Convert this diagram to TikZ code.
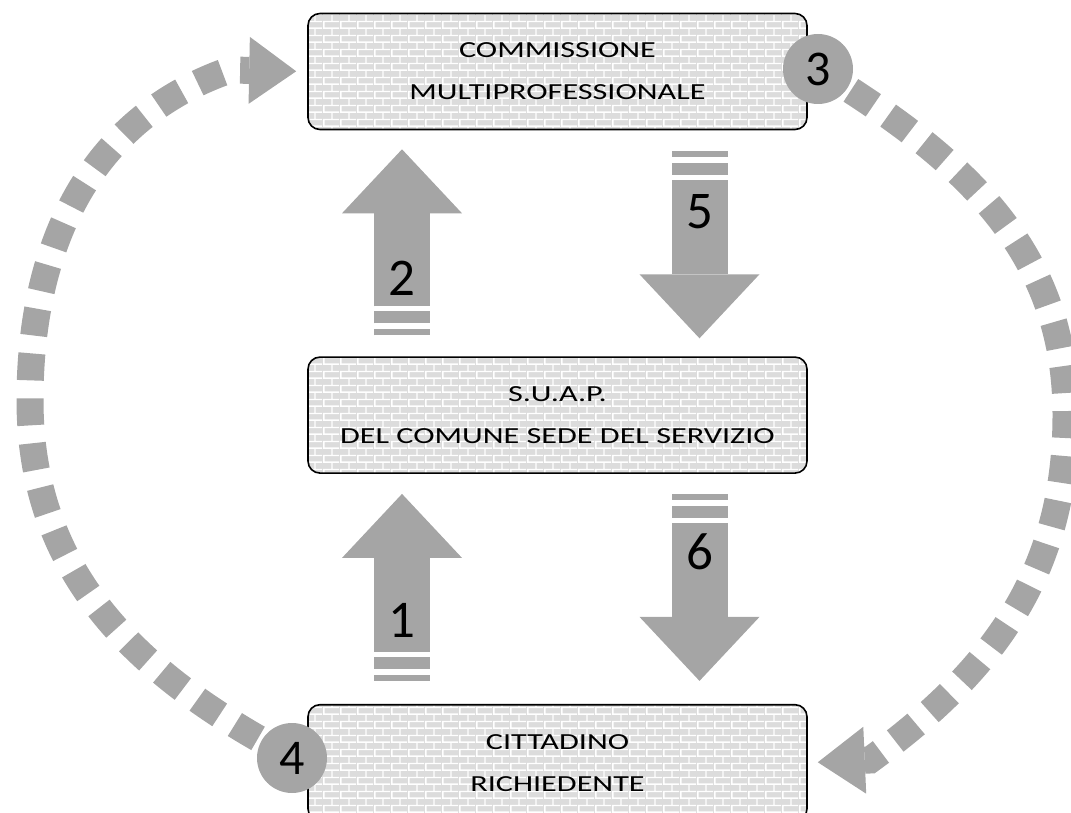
\documentclass[tikz,border=0pt]{standalone}
\usepackage{fontspec}
\setmainfont{Carlito}
\newfontfamily\boxfont[FakeStretch=1.4]{Carlito}
\usetikzlibrary{positioning,calc,patterns,arrows.meta}
\definecolor{arrowgray}{HTML}{A5A5A5}
\definecolor{boxgray}{HTML}{DCDCDC}

% white joints of the box filling
\pgfdeclarepatternformonly{brickwall}{\pgfpointorigin}{\pgfqpoint{17pt}{14pt}}{\pgfqpoint{17pt}{14pt}}{
    \pgfsetlinewidth{1.5pt}
    \pgfpathmoveto{\pgfqpoint{0pt}{1pt}}\pgfpathlineto{\pgfqpoint{17pt}{1pt}}
    \pgfpathmoveto{\pgfqpoint{0pt}{8pt}}\pgfpathlineto{\pgfqpoint{17pt}{8pt}}
    \pgfpathmoveto{\pgfqpoint{1pt}{1pt}}\pgfpathlineto{\pgfqpoint{1pt}{8pt}}
    \pgfpathmoveto{\pgfqpoint{9.5pt}{8pt}}\pgfpathlineto{\pgfqpoint{9.5pt}{15pt}}
    \pgfusepath{stroke}
}

\begin{document}
\begin{tikzpicture}[
    x=1pt, y=1pt,
    node distance=226pt,
    box/.style={rectangle, draw, line width=1.6pt, rounded corners=12pt, minimum width=499pt, minimum height=116pt, align=center, preaction={fill=boxgray}, pattern=brickwall, pattern color=white, font=\boxfont\fontsize{23}{42}\selectfont},
    num/.style={circle, fill=arrowgray, minimum size=70pt, inner sep=0pt, font=\fontsize{50}{50}\selectfont},
    fatarrow/.style={arrowgray, line width=56pt, dash pattern=on 6pt off 6pt on 12pt off 5pt on 2000pt, -{Triangle[length=64pt,width=120pt,line width=0pt]}},
    dotarc/.style={arrowgray, line width=27pt, dash pattern=on 27pt off 18pt, -{Triangle[length=47pt,width=67pt,line width=0pt]}},
    lab/.style={text=black, font=\fontsize{53}{53}\selectfont}
]
    \useasboundingbox (0,0) rectangle (1071,-813);
    \clip (0,0) rectangle (1071,-813);

    % boxes
    \node[box] (comm) at (557.5,-71.5) {COMMISSIONE\\MULTIPROFESSIONALE};
    \node[box, below=226pt of comm] (suap) {S.U.A.P.\\DEL COMUNE SEDE DEL SERVIZIO};
    \node[box, below=230pt of suap] (citt) {CITTADINO\\RICHIEDENTE};

    % step numbers on the ring
    \node[num] (n3) at (818,-69) {3};
    \node[num] (n4) at (292,-758) {4};

    % big arrows
    \draw[fatarrow, shorten <=21pt, shorten >=19pt] ([xshift=-155.5pt]suap.north) -- ([xshift=-155.5pt]comm.south) node[lab, pos=0.345] (l2) {2};
    \draw[fatarrow, shorten <=21pt, shorten >=18pt] ([xshift=142pt]comm.south) -- ([xshift=142pt]suap.north) node[lab, pos=0.358] (l5) {5};
    \draw[fatarrow, shorten <=23pt, shorten >=20pt] ([xshift=-155.5pt]citt.north) -- ([xshift=-155.5pt]suap.south) node[lab, pos=0.365] (l1) {1};
    \draw[fatarrow, shorten <=20pt, shorten >=23pt] ([xshift=142pt]suap.south) -- ([xshift=142pt]citt.north) node[lab, pos=0.339] (l6) {6};

    % dotted ring
    \coordinate (lw) at (30,-400);
    \coordinate (rw) at (1066,-415);
    \draw[dotarc, shorten <=4pt, shorten >=11pt] (n4.150) to[out=150,in=270] (lw) to[out=90,in=199] (230,-70) -- (comm.west);
    \draw[dotarc, shorten <=4pt, shorten >=10pt] (n3.-33) to[out=-33,in=90] (rw) to[out=270,in=36] (870,-760) -- (citt.east);

\end{tikzpicture}
\end{document}
